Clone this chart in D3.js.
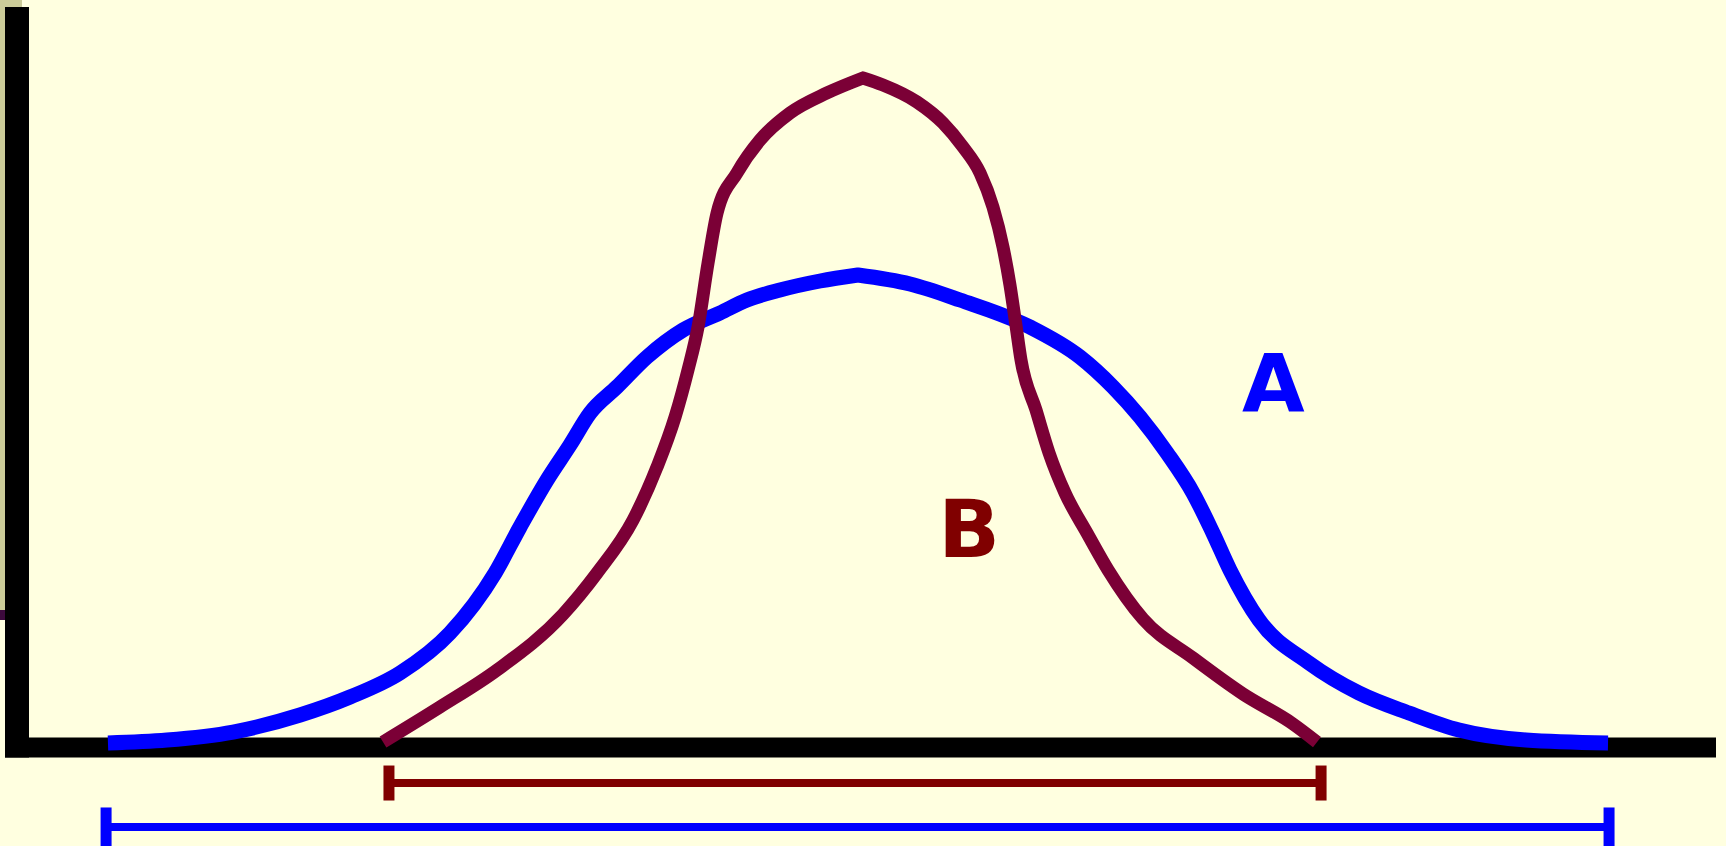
<!DOCTYPE html>
<html>
<head>
<meta charset="utf-8">
<script src="https://cdn.jsdelivr.net/npm/d3@7"></script>
<style>
  html, body { margin: 0; padding: 0; background: #ffffe0; overflow: hidden; }
  svg { display: block; }
</style>
</head>
<body>
<svg id="chart" width="1726" height="846"></svg>
<script>
// ---- data (arbitrary units: x 0..100, y 0..100) ----
const seriesNames = ["A", "B"];

const curveA_x = [5.35, 8.82, 12.71, 16.65, 19.59, 22.53, 25.47, 28.12, 29.59, 31.18, 32.53, 33.71, 35.29, 37.06, 39.18, 41.35, 42.94, 44.88, 47.24, 49.47, 52.53, 55.47, 59.59, 62.53, 64.47, 66.06, 67.65, 69.18, 70.35, 71.35, 73.06, 76.0, 78.94, 81.88, 84.82, 88.76, 93.59];
const curveA_y = [0.61, 1.01, 2.09, 4.39, 6.82, 10.07, 15.47, 23.58, 29.8, 36.15, 40.88, 45.2, 48.72, 52.77, 56.42, 58.72, 60.47, 61.82, 63.04, 63.85, 62.64, 60.47, 56.82, 52.77, 48.72, 44.66, 39.8, 34.39, 28.99, 23.99, 17.23, 11.42, 7.36, 4.66, 2.36, 1.01, 0.61];

const curveB_x = [21.53, 24.88, 28.24, 32.12, 34.12, 36.24, 37.65, 38.71, 39.47, 40.06, 40.65, 41.18, 42.35, 43.71, 45.47, 47.65, 49.76, 50.94, 52.94, 54.47, 55.65, 56.65, 57.41, 58.0, 58.41, 58.76, 59.06, 59.94, 60.71, 61.65, 62.94, 64.18, 66.24, 69.18, 72.12, 75.06, 76.47];
const curveB_y = [0.74, 5.47, 10.47, 18.0, 23.58, 30.74, 37.91, 44.66, 51.01, 56.82, 65.47, 72.23, 77.64, 82.09, 85.74, 88.45, 90.47, 89.53, 87.23, 84.39, 81.15, 77.64, 73.04, 67.64, 62.5, 57.09, 52.36, 45.61, 39.8, 34.39, 28.99, 23.99, 17.36, 12.09, 7.23, 3.18, 0.74];

// spread (range) bars shown under the axis: [start, end, level]
const rangeA = [5.24, 93.65, -10.74];
const rangeB = [21.88, 76.71, -4.8];

// label anchors (data units)
const labelA = [73.9, 45.3];
const labelB = [56.0, 25.7];

// ---- drawing ----
const svg = d3.select("#chart");
const W = 1726, H = 846;

const x = d3.scaleLinear().domain([0, 100]).range([17, 1717]);
const y = d3.scaleLinear().domain([0, 100]).range([747.5, 7.5]);

const colA = "#0000ff";
const colBcurve = "#7b0036";
const colBdark = "#800000";

// background
svg.append("rect").attr("x", 0).attr("y", 0).attr("width", W).attr("height", H).attr("fill", "#ffffe0");
// olive frame remnants at the top-left
svg.append("rect").attr("x", 0).attr("y", 0).attr("width", 22).attr("height", 7).attr("fill", "#cccc99");
svg.append("rect").attr("x", 0).attr("y", 0).attr("width", 5).attr("height", 610).attr("fill", "#cccc99");
svg.append("rect").attr("x", 0).attr("y", 610).attr("width", 5).attr("height", 10).attr("fill", "#3c0a3c");

const lineM = d3.line().x(d => x(d[0])).y(d => y(d[1])).curve(d3.curveMonotoneX);
// smooth flanks that meet in a pointed peak
function peakedPath(data) {
  const k = d3.maxIndex(data, d => d[1]);
  const left = lineM(data.slice(0, k + 1));
  const right = lineM(data.slice(k)).replace(/^M/, "L");
  return left + right;
}

const dataA = curveA_x.map((v, i) => [v, curveA_y[i]]);
const dataB = curveB_x.map((v, i) => [v, curveB_y[i]]);

// axes (thick black L)
const axisG = svg.append("g").attr("class", "axes");
axisG.append("line")
  .attr("x1", x(0)).attr("x2", x(0))
  .attr("y1", 7).attr("y2", y(0) + 10)
  .attr("stroke", "#000").attr("stroke-width", 24);
axisG.append("line")
  .attr("x1", x(0) - 12).attr("x2", x(100) - 1)
  .attr("y1", y(0)).attr("y2", y(0))
  .attr("stroke", "#000").attr("stroke-width", 20);

// curves
svg.append("path").datum(dataA)
  .attr("d", peakedPath).attr("fill", "none")
  .attr("stroke", colA).attr("stroke-width", 15)
  .attr("stroke-linejoin", "miter");
svg.append("path").datum(dataB)
  .attr("d", peakedPath).attr("fill", "none")
  .attr("stroke", colBcurve).attr("stroke-width", 13)
  .attr("stroke-linejoin", "miter");

// range bars
function rangeBar(r, color, tickHalf) {
  const g = svg.append("g");
  g.append("line")
    .attr("x1", x(r[0])).attr("x2", x(r[1]))
    .attr("y1", y(r[2])).attr("y2", y(r[2]))
    .attr("stroke", color).attr("stroke-width", 8);
  [r[0], r[1]].forEach(v => {
    g.append("line")
      .attr("x1", x(v)).attr("x2", x(v))
      .attr("y1", y(r[2]) - tickHalf).attr("y2", y(r[2]) + tickHalf)
      .attr("stroke", color).attr("stroke-width", 11);
  });
}
rangeBar(rangeB, colBdark, 17.5);
rangeBar(rangeA, colA, 19.5);

// labels
svg.append("text")
  .attr("x", x(labelA[0])).attr("y", y(labelA[1]))
  .attr("text-anchor", "middle")
  .attr("font-family", "'DejaVu Sans', sans-serif")
  .attr("font-weight", "bold").attr("font-size", 81)
  .attr("fill", colA).text(seriesNames[0]);
svg.append("text")
  .attr("x", x(labelB[0])).attr("y", y(labelB[1]))
  .attr("text-anchor", "middle")
  .attr("font-family", "'DejaVu Sans', sans-serif")
  .attr("font-weight", "bold").attr("font-size", 81)
  .attr("fill", colBdark).text(seriesNames[1]);
</script>
</body>
</html>
